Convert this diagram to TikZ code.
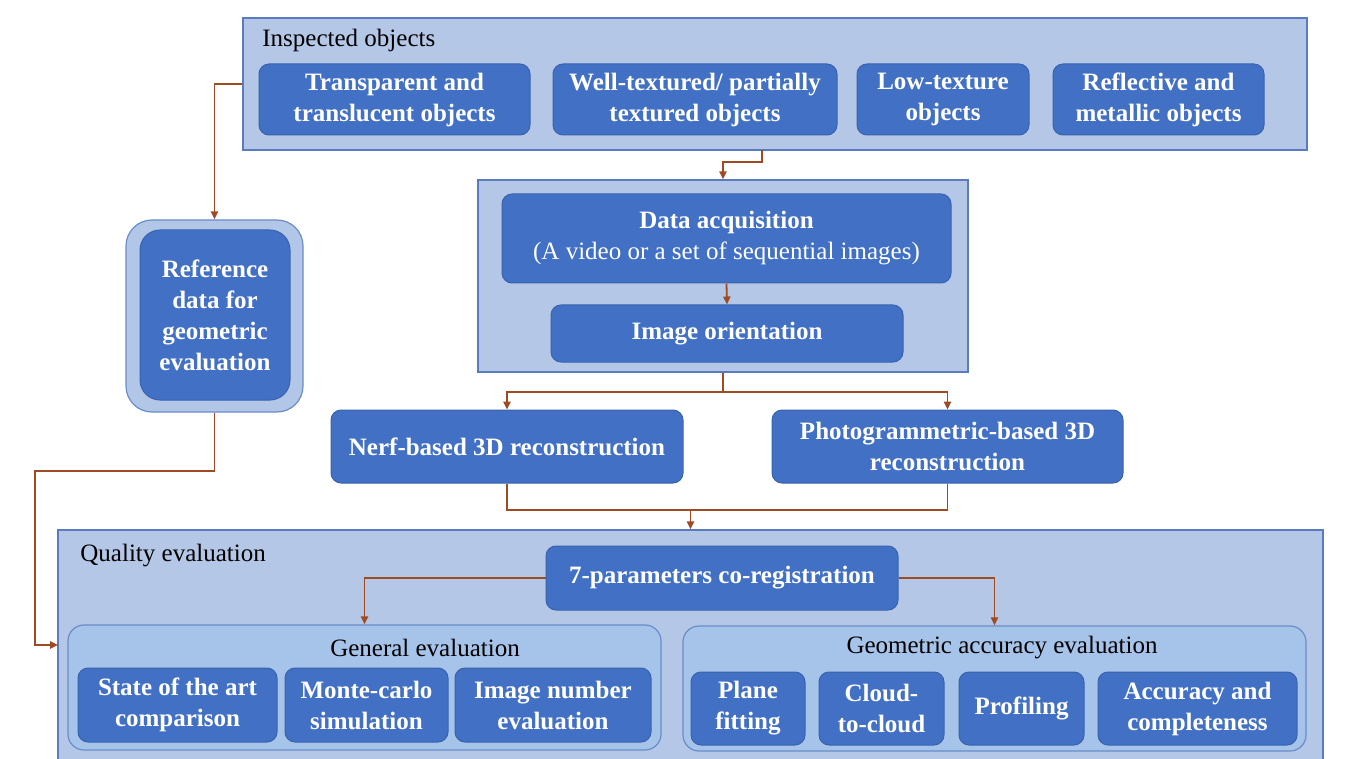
\documentclass[tikz,border=0pt]{standalone}
\usepackage{fontspec}
\setmainfont{Liberation Serif}
\usetikzlibrary{arrows.meta}

\definecolor{framefill}{HTML}{B4C7E7}
\definecolor{framedraw}{HTML}{5A7CBE}
\definecolor{groupfill}{HTML}{A6C4EA}
\definecolor{groupdraw}{HTML}{6A8CC8}
\definecolor{boxfill}{HTML}{4270C4}
\definecolor{boxdraw}{HTML}{3A63AE}
\definecolor{flowc}{HTML}{9E4B23}

\newcommand{\diagfont}{\fontsize{12.5}{15.5}\selectfont}

\tikzset{
  wh/.style 2 args={minimum width=#1pt, minimum height=#2pt},
  frame/.style={draw=framedraw, fill=framefill, line width=0.7pt, inner sep=0pt},
  group/.style={draw=groupdraw, fill=groupfill, rounded corners=8pt, line width=0.6pt, inner sep=0pt},
  box/.style={draw=boxdraw, fill=boxfill, rounded corners=5pt, line width=0.5pt, inner sep=0pt,
    text=white, font=\diagfont\bfseries, align=center},
  title/.style={anchor=west, inner sep=0pt, font=\diagfont},
  flow/.style={draw=flowc, line width=0.9pt, -{Triangle[length=4pt,width=3.6pt]}},
  link/.style={draw=flowc, line width=0.9pt},
}

\begin{document}
\begin{tikzpicture}[x=0.5pt,y=-0.5pt]
  \useasboundingbox (0,0) rectangle (1349,759);

  % inspected objects
  \node[frame, wh={532}{66}] (insp) at (775,84) {};
  \node[title] (insptitle) at (262,40) {Inspected objects};
  \node[box, wh={135.5}{35.5}] (trans) at (394.5,99.5) {Transparent and\\translucent objects};
  \node[box, wh={142}{35.5}] (well) at (695,99.5) {Well-textured/ partially\\textured objects};
  \node[box, wh={86}{35.5}] (low) at (943,99.5) {Low-texture\\objects};
  \node[box, wh={105.5}{35.5}] (refl) at (1158.5,99.5) {Reflective and\\metallic objects};

  % reference data
  \node[group, rounded corners=13pt, fill=framefill!85!groupfill, wh={88.5}{96}] (refout) at (214.5,316) {};
  \node[box, rounded corners=10pt, wh={75}{85}] (ref) at (215,315) {Reference\\data for\\geometric\\evaluation};

  % acquisition and orientation
  \node[frame, wh={245}{96}] (mid) at (723,276) {};
  \node[box, wh={224.5}{44.5}] (acq) at (726.5,238.5) {Data acquisition\\{\mdseries (A video or a set of sequential images)}};
  \node[box, wh={176}{28.5}] (orient) at (727,333.5) {Image orientation};

  % reconstruction
  \node[box, wh={176}{36.5}] (nerf) at (507,446.5) {Nerf-based 3D reconstruction};
  \node[box, wh={175.5}{36.5}] (photo) at (947.5,446.5) {Photogrammetric-based 3D\\reconstruction};

  % quality evaluation
  \node[frame, wh={632.5}{130}] (quality) at (690.5,660) {};
  \node[title] (qtitle) at (80,556) {Quality evaluation};
  \node[box, wh={176}{32}] (reg) at (722,578) {7-parameters co-registration};

  \node[group, wh={296.5}{62.5}] (general) at (364.5,687.5) {};
  \node[font=\diagfont] (gentitle) at (425,648) {General evaluation};
  \node[box, wh={99.5}{37}] (sota) at (177.5,705) {State of the art\\comparison};
  \node[box, wh={81.5}{37}] (monte) at (366.5,705) {Monte-carlo\\simulation};
  \node[box, wh={98}{37}] (imgnum) at (553,705) {Image number\\evaluation};

  \node[group, wh={311.5}{62.5}] (geom) at (994.5,688.5) {};
  \node[font=\diagfont] (geomtitle) at (1002,648) {Geometric accuracy evaluation};
  \node[box, wh={57}{36.5}] (plane) at (748,708.5) {Plane\\fitting};
  \node[box, wh={62.5}{36.5}] (cloud) at (881.5,708.5) {Cloud-\\to-cloud};
  \node[box, wh={62.5}{36.5}] (prof) at (1021.5,708.5) {Profiling};
  \node[box, wh={99.5}{36.5}] (acc) at (1197.5,708.5) {Accuracy and\\completeness};

  % connectors
  \coordinate (inspout) at (762,150);
  \coordinate (join) at (690.5,510);
  \coordinate (bend) at (35,471);
  \coordinate (qin) at (58,645);

  \draw[flow] (insp.west) -| (refout.north);
  \draw[flow] (inspout) -- ++(0,12) -| (mid.north);
  \draw[flow] (acq.south) -- (orient.north);
  \draw[flow] (mid.south) -- ++(0,19) -| (nerf.north);
  \draw[flow] (mid.south) -- ++(0,19) -| (photo.north);
  \draw[link] (nerf.south) |- (join) -| (photo.south);
  \draw[flow] (join) -- (join |- quality.north);
  \draw[flow] (refout.south) |- (bend) |- (qin);
  \draw[flow] (reg.west) -| (general.north);
  \draw[flow] (reg.east) -| (geom.north);
\end{tikzpicture}
\end{document}
